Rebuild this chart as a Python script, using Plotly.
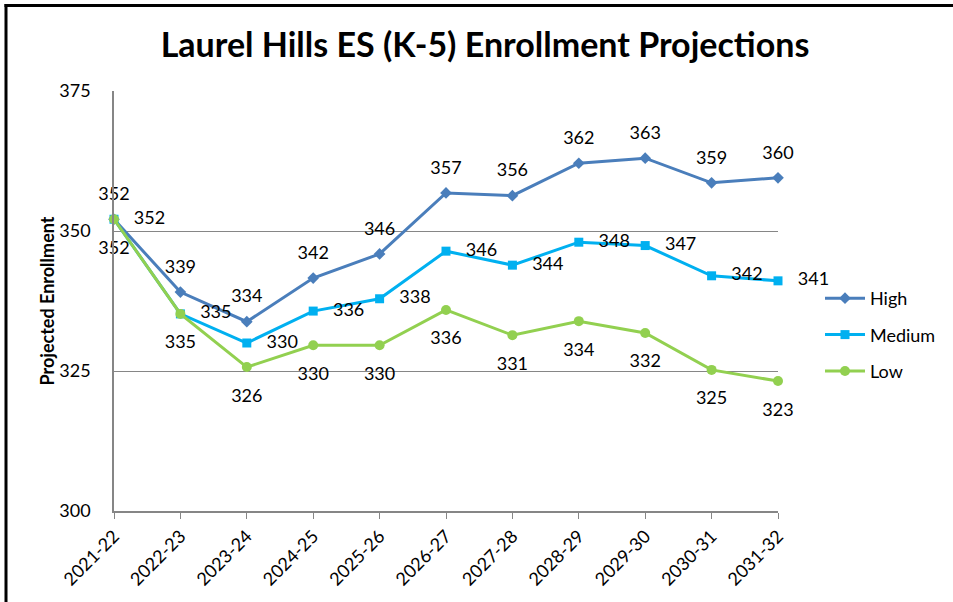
import plotly.graph_objects as go

years = ["2021-22", "2022-23", "2023-24", "2024-25", "2025-26", "2026-27",
         "2027-28", "2028-29", "2029-30", "2030-31", "2031-32"]
high = [352.1, 339.1, 333.8, 341.6, 345.9, 356.8, 356.3, 362.1, 363.0, 358.6, 359.5]
medium = [352.1, 335.2, 330.0, 335.7, 337.9, 346.4, 343.9, 348.0, 347.4, 342.0, 341.1]
low = [352.1, 335.2, 325.7, 329.6, 329.6, 335.9, 331.4, 333.9, 331.8, 325.2, 323.2]

FONT = "Lato, 'Open Sans', sans-serif"
W, H = 953, 602
ML, MR, MT, MB = 114, 175, 91, 91
FS = 18

fig = go.Figure()
series = [
    ("High", high, "#4A7EBB", "diamond", 9, "top center", 22),
    ("Medium", medium, "#00B0F0", "square", 9, "middle right", 30),
    ("Low", low, "#92D050", "circle", 10, "bottom center", 32),
]
for name, vals, col, sym, ms, tp, pad in series:
    fig.add_trace(go.Scatter(
        x=years, y=vals, name=name, mode="lines+markers",
        line=dict(color=col, width=3),
        marker=dict(symbol=sym, size=ms, color=col),
        legendgroup=name, cliponaxis=False,
    ))
for name, vals, col, sym, ms, tp, pad in series:
    # data labels, offset from the points by an invisible marker
    fig.add_trace(go.Scatter(
        x=years, y=vals, mode="markers+text", showlegend=False,
        marker=dict(size=pad, opacity=0),
        texttemplate="%{y:.0f}", textposition=tp,
        textfont=dict(family=FONT, size=FS, color="#000000"),
        hoverinfo="skip", cliponaxis=False,
    ))

pw = W - ML - MR
ph = H - MT - MB
def px_x(p):
    return (p - ML) / pw
def px_y(p):
    return (H - MB - p) / ph

fig.update_layout(
    width=W, height=H,
    margin=dict(l=ML, r=MR, t=MT, b=MB),
    paper_bgcolor="white", plot_bgcolor="white",
    font=dict(family=FONT, size=FS, color="#000000"),
    title=dict(text="<b>Laurel Hills ES (K-5) Enrollment Projections</b>",
               x=485 / W, xref="container", xanchor="center",
               y=1 - 45 / H, yref="container", yanchor="middle",
               font=dict(family=FONT, size=34, color="#000000")),
    xaxis=dict(type="category", range=[0, 10], showgrid=False,
               showline=True, linecolor="#868686", linewidth=1.5,
               ticks="outside", ticklen=6, tickcolor="#868686",
               tickangle=-45, tickfont=dict(size=FS), zeroline=False),
    yaxis=dict(range=[300, 375], tickvals=[300, 325, 350, 375],
               showgrid=True, gridcolor="#868686", gridwidth=1,
               showline=True, linecolor="#868686", linewidth=1.5,
               ticks="", ticklabelstandoff=18, zeroline=False,
               tickfont=dict(size=FS),
               title=dict(text="<b>Projected Enrollment</b>", standoff=0,
                          font=dict(size=18))),
    legend=dict(x=px_x(820), xanchor="left", y=px_y(280), yanchor="top",
                font=dict(size=FS), tracegroupgap=10, itemwidth=40,
                bgcolor="rgba(0,0,0,0)"),
    showlegend=True,
    shapes=[
        dict(type="line", xref="paper", yref="paper",
             x0=px_x(6), x1=px_x(6), y0=px_y(4), y1=px_y(H + 5),
             line=dict(color="black", width=3)),
        dict(type="line", xref="paper", yref="paper",
             x0=px_x(4.5), x1=px_x(W + 5), y0=px_y(5.5), y1=px_y(5.5),
             line=dict(color="black", width=3)),
    ],
)

fig.write_html("out.html", config={"displayModeBar": False},
               post_script="document.body.style.margin='0';")
